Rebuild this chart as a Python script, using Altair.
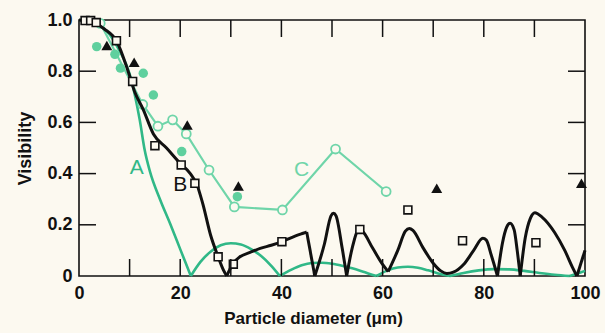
import altair as alt
import pandas as pd

# ---------------- data ----------------
# Curve A (green theory curve)
A_x = [0, 2, 4, 6, 8, 10, 11, 12, 13, 14, 16, 18, 20, 22.1,
       24, 26, 28, 30, 32, 34, 36, 38, 39.7,
       42, 44, 46, 48, 50, 52, 54, 56, 58.8,
       61, 63, 65, 67, 69, 71, 73.3,
       76, 79, 82, 85, 88, 91, 94, 97,
       98.5, 100]
A_v = [1.0, 0.995, 0.98, 0.945, 0.88, 0.79, 0.71, 0.61, 0.49, 0.41, 0.30, 0.205, 0.105, 0.0,
       0.055, 0.095, 0.12, 0.128, 0.123, 0.105, 0.078, 0.04, 0.0,
       0.025, 0.042, 0.051, 0.052, 0.048, 0.04, 0.03, 0.018, 0.0,
       0.022, 0.033, 0.036, 0.032, 0.022, 0.01, 0.0,
       0.012, 0.022, 0.027, 0.026, 0.02, 0.012, 0.005, 0.0,
       0.01, 0.02]
A_breaks = [22.1, 39.7, 58.8, 73.3, 97]

# Curve B (black theory curve)
B_x = [0, 3, 5, 7.5, 9.7, 11, 12.7, 14.7, 17.3, 20, 22, 23.3,
       24.5, 26, 27.5, 28.5, 29.2,
       30.5, 31.8, 33.8, 35.8, 38, 40.1, 42, 44.3, 45,
       46.6,
       48.5, 49.8, 50.3, 50.8, 52.0, 52.9,
       54, 55.3, 56, 58, 60, 61.1,
       63, 64.5, 65.3, 66, 68, 70, 71.5, 72.7, 74, 76, 78, 79.8, 80.5, 81.5, 82.7,
       83.7, 84.5, 85.2, 86, 86.6, 87.2,
       88.2, 89.2, 90.1, 91.5, 94, 96, 97.5, 98.4,
       100]
B_v = [1.0, 0.99, 0.965, 0.915, 0.8, 0.72, 0.65, 0.555, 0.5, 0.44, 0.4, 0.36,
       0.28, 0.16, 0.075, 0.025, 0.0,
       0.05, 0.075, 0.092, 0.108, 0.12, 0.134, 0.15, 0.167, 0.172,
       0.0,
       0.125, 0.235, 0.245, 0.235, 0.11, 0.0,
       0.11, 0.18, 0.175, 0.11, 0.045, 0.017,
       0.1, 0.175, 0.186, 0.178, 0.11, 0.05, 0.02, 0.01, 0.015, 0.045, 0.1, 0.147, 0.14, 0.08, 0.0,
       0.13, 0.19, 0.206, 0.18, 0.1, 0.0,
       0.15, 0.225, 0.247, 0.23, 0.17, 0.1, 0.035, 0.0,
       0.10]
B_breaks = [23.3, 29.2, 45, 46.6, 52.9, 61.1, 82.7, 87.2, 98.4]

# Curve C (light green measured, open circles joined by straight lines)
C_x = [4.2, 12.6, 15.6, 18.5, 21.2, 25.7, 30.7, 40.2, 50.7, 60.7]
C_v = [0.987, 0.67, 0.585, 0.61, 0.555, 0.414, 0.27, 0.258, 0.496, 0.33]

# Open squares (black)
sq_x = [1.2, 2.3, 3.4, 7.4, 10.6, 15.0, 20.2, 22.9, 27.5, 30.5, 40.1, 55.5, 65.0, 75.8, 90.3]
sq_v = [0.998, 0.998, 0.99, 0.919, 0.76, 0.509, 0.434, 0.362, 0.075, 0.046, 0.134, 0.182, 0.258, 0.138, 0.13]

# Filled triangles (black)
tri_x = [5.5, 10.9, 21.4, 31.5, 70.7, 99.3]
tri_v = [0.9, 0.835, 0.59, 0.352, 0.343, 0.362]

# Filled green dots
dot_x = [3.5, 7.1, 8.2, 12.7, 14.7, 20.3, 31.3]
dot_v = [0.896, 0.866, 0.812, 0.792, 0.707, 0.486, 0.31]

# Curve labels
lab_text = ["A", "B", "C"]
lab_x = [11.4, 20.0, 44.0]
lab_v = [0.42, 0.355, 0.414]

# Axis ticks
x_labels = [0, 20, 40, 60, 80, 100]
y_labels = [0, 0.2, 0.4, 0.6, 0.8, 1.0]
x_ticks = [10, 20, 30, 40, 50, 60, 70, 80, 90]
y_ticks = [0.2, 0.4, 0.6, 0.8]

# ---------------- build tables ----------------
def segmented(xs, vs, breaks):
    rows, seg = [], 0
    for x, v in zip(xs, vs):
        rows.append({"x": x, "v": v, "seg": seg})
        if x in breaks:
            seg += 1
            rows.append({"x": x, "v": v, "seg": seg})
    return pd.DataFrame(rows)

dfA = segmented(A_x, A_v, A_breaks)
dfB = segmented(B_x, B_v, B_breaks)
dfC = pd.DataFrame({"x": C_x, "v": C_v})
dfS = pd.DataFrame({"x": sq_x, "v": sq_v})
dfT = pd.DataFrame({"x": tri_x, "v": tri_v})
dfD = pd.DataFrame({"x": dot_x, "v": dot_v})
dfL = pd.DataFrame({"x": lab_x, "v": lab_v, "t": lab_text})
dfXT = pd.DataFrame({"x": x_ticks})
dfYT = pd.DataFrame({"v": y_ticks})

W, H = 506, 256
BG = "#fcf9f0"
GREEN = "#30b887"
LGREEN = "#6fd5a9"
FONT = "Liberation Sans"

xs = alt.Scale(domain=[0, 100], nice=False, zero=False)
ys = alt.Scale(domain=[0, 1.0], nice=False, zero=False)

X = alt.X("x:Q", scale=xs, axis=alt.Axis(
    values=x_labels, title="Particle diameter (\u03bcm)", grid=False, domain=False,
    ticks=False, tickSize=0, labelFlush=False, labelPadding=8,
    labelFont=FONT, labelFontSize=18, labelFontWeight="bold", labelColor="#111",
    titleFont=FONT, titleFontSize=17, titleFontWeight="bold", titleColor="#111",
    titleBaseline="alphabetic", titleY=47, titleX=234))
Y = alt.Y("v:Q", scale=ys, axis=alt.Axis(
    values=y_labels, title="Visibility", grid=False, domain=False,
    ticks=False, tickSize=0, labelPadding=7,
    labelExpr="datum.value == 0 ? '0' : format(datum.value, '.1f')",
    labelFont=FONT, labelFontSize=18, labelFontWeight="bold", labelColor="#111",
    titleFont=FONT, titleFontSize=18, titleFontWeight="bold", titleColor="#111",
    titleAngle=-90, titleBaseline="alphabetic", titleAlign="center",
    titleX=-49, titleY=H / 2))

lineA = alt.Chart(dfA).mark_line(color=GREEN, strokeWidth=2.6, interpolate="monotone").encode(
    x=X, y=Y, detail="seg:N", order="x:Q")
lineC = alt.Chart(dfC).mark_line(color=LGREEN, strokeWidth=2.2).encode(x=X, y=Y)
ptsC = alt.Chart(dfC).mark_point(shape="circle", size=80, filled=True, fill=BG,
                                 stroke=LGREEN, strokeWidth=1.8, opacity=1).encode(x=X, y=Y)
lineB = alt.Chart(dfB).mark_line(color="#111", strokeWidth=3, interpolate="monotone").encode(
    x=X, y=Y, detail="seg:N", order="x:Q")
ptsS = alt.Chart(dfS).mark_point(shape="square", size=62, filled=True, fill=BG,
                                 stroke="#111", strokeWidth=1.6, opacity=1).encode(x=X, y=Y)
ptsD = alt.Chart(dfD).mark_point(shape="circle", size=90, filled=True, color="#5fd09e",
                                 opacity=1).encode(x=X, y=Y)
ptsT = alt.Chart(dfT).mark_point(shape="triangle-up", size=120, filled=True, color="#111",
                                 opacity=1).encode(x=X, y=Y)
labels = alt.Chart(dfL).mark_text(font=FONT, fontSize=21, baseline="middle", align="center").encode(
    x=X, y=Y, text="t:N",
    color=alt.Color("t:N", scale=alt.Scale(domain=lab_text, range=[GREEN, "#111", LGREEN]), legend=None))

tb = alt.Chart(dfXT).mark_rule(color="#111", strokeWidth=1.5).encode(
    x=alt.X("x:Q", scale=xs), y=alt.value(H), y2=alt.value(H - 17))
tt = alt.Chart(dfXT).mark_rule(color="#111", strokeWidth=1.5).encode(
    x=alt.X("x:Q", scale=xs), y=alt.value(0), y2=alt.value(17))
tl = alt.Chart(dfYT).mark_rule(color="#111", strokeWidth=1.5).encode(
    y=alt.Y("v:Q", scale=ys), x=alt.value(0), x2=alt.value(17))
tr = alt.Chart(dfYT).mark_rule(color="#111", strokeWidth=1.5).encode(
    y=alt.Y("v:Q", scale=ys), x=alt.value(W), x2=alt.value(W - 17))

chart = alt.layer(lineA, lineC, ptsC, lineB, ptsS, ptsD, ptsT, labels, tb, tt, tl, tr).properties(
    width=W, height=H,
    autosize=alt.AutoSizeParams(type="none"),
    padding={"left": 79, "top": 20, "right": 20, "bottom": 57},
    background=BG,
).configure_view(stroke="#111", strokeWidth=1.6)

chart.save("out.html", embed_options={"renderer": "svg", "actions": False})
